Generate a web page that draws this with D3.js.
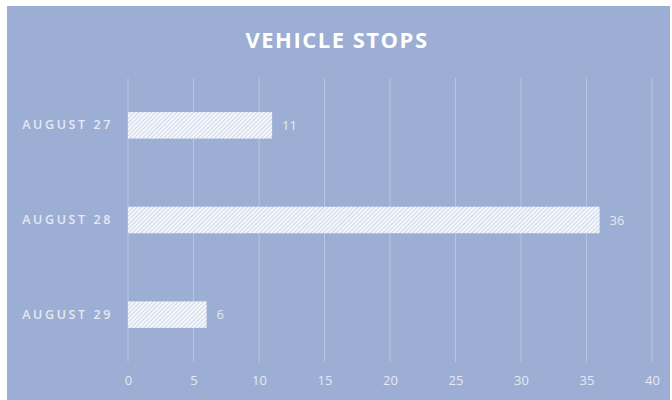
<!DOCTYPE html>
<html>
<head>
<meta charset="utf-8">
<script src="https://cdn.jsdelivr.net/npm/d3@7"></script>
<style>
  body { margin: 0; background: #fff; }
  svg { display: block; }
</style>
</head>
<body>
<main></main>
<script>
var w = 672;
var h = 400;

var days = ["AUGUST 27", "AUGUST 28", "AUGUST 29"];
var stops = [11, 36, 6];
var ticks = [0, 5, 10, 15, 20, 25, 30, 35, 40];

var bg = "#9caed3";
var plotLeft = 128, plotRight = 652, plotTop = 78, plotBottom = 362;

var svg = d3.select("main").append("svg").attr("width", w).attr("height", h);

// hatch pattern for bars
var defs = svg.append("defs");
var pat = defs.append("pattern")
  .attr("id", "hatch")
  .attr("patternUnits", "userSpaceOnUse")
  .attr("width", 3)
  .attr("height", 3)
  .attr("patternTransform", "rotate(45)");
pat.append("rect").attr("width", 3).attr("height", 3).attr("fill", "#f6f8fc");
pat.append("line")
  .attr("x1", 0).attr("y1", 0).attr("x2", 0).attr("y2", 3)
  .attr("stroke", "#bcc8e2").attr("stroke-width", 1.4);

// background panel
svg.append("rect")
  .attr("x", 7).attr("y", 6)
  .attr("width", 663).attr("height", h - 6)
  .attr("fill", bg);

// SCALES
var xScale = d3.scaleLinear().domain([0, 40]).range([plotLeft, plotRight]);
var yScale = d3.scaleBand().domain(days).range([plotTop, plotBottom]).paddingInner(0.72).paddingOuter(0.36);

// gridlines
svg.selectAll("line.grid")
  .data(ticks)
  .enter()
  .append("line")
  .attr("class", "grid")
  .attr("x1", function (d) { return xScale(d); })
  .attr("x2", function (d) { return xScale(d); })
  .attr("y1", plotTop)
  .attr("y2", plotBottom)
  .attr("stroke", "#b8c5e1")
  .attr("stroke-width", 1);

// x axis labels
var xAxis = d3.axisBottom(xScale).tickValues(ticks).tickSize(0).tickPadding(14);
var gx = svg.append("g")
  .attr("transform", "translate(0," + plotBottom + ")")
  .call(xAxis);
gx.select(".domain").remove();
gx.selectAll("text")
  .attr("fill", "#e4e9f4")
  .attr("font-family", "'Open Sans', sans-serif")
  .attr("font-size", "13px");

// y axis labels
var yAxis = d3.axisLeft(yScale).tickSize(0).tickPadding(15);
var gy = svg.append("g")
  .attr("transform", "translate(" + plotLeft + ",0)")
  .call(yAxis);
gy.select(".domain").remove();
gy.selectAll("text")
  .attr("fill", "#e4e9f4")
  .attr("font-family", "'Open Sans', sans-serif")
  .attr("font-weight", "600")
  .attr("font-size", "12.5px")
  .attr("letter-spacing", "2.6px");

// BARS
var data = days.map(function (d, i) { return { day: d, value: stops[i] }; });
svg.selectAll("rect.bar")
  .data(data)
  .enter()
  .append("rect")
  .attr("class", "bar")
  .attr("x", xScale(0))
  .attr("y", function (d) { return yScale(d.day); })
  .attr("width", function (d) { return xScale(d.value) - xScale(0); })
  .attr("height", yScale.bandwidth())
  .attr("fill", "url(#hatch)");

// value labels
svg.selectAll("text.val")
  .data(data)
  .enter()
  .append("text")
  .attr("class", "val")
  .attr("x", function (d) { return xScale(d.value) + 10; })
  .attr("y", function (d) { return yScale(d.day) + yScale.bandwidth() / 2; })
  .attr("dy", "0.35em")
  .attr("fill", "#e4e9f4")
  .attr("font-family", "'Open Sans', sans-serif")
  .attr("font-size", "13px")
  .text(function (d) { return d.value; });

// title
svg.append("text")
  .attr("x", 337)
  .attr("y", 48)
  .attr("text-anchor", "middle")
  .attr("fill", "#ffffff")
  .attr("font-family", "'Open Sans', sans-serif")
  .attr("font-weight", "bold")
  .attr("font-size", "22px")
  .attr("letter-spacing", "1.5px")
  .text("VEHICLE STOPS");
</script>
</body>
</html>
